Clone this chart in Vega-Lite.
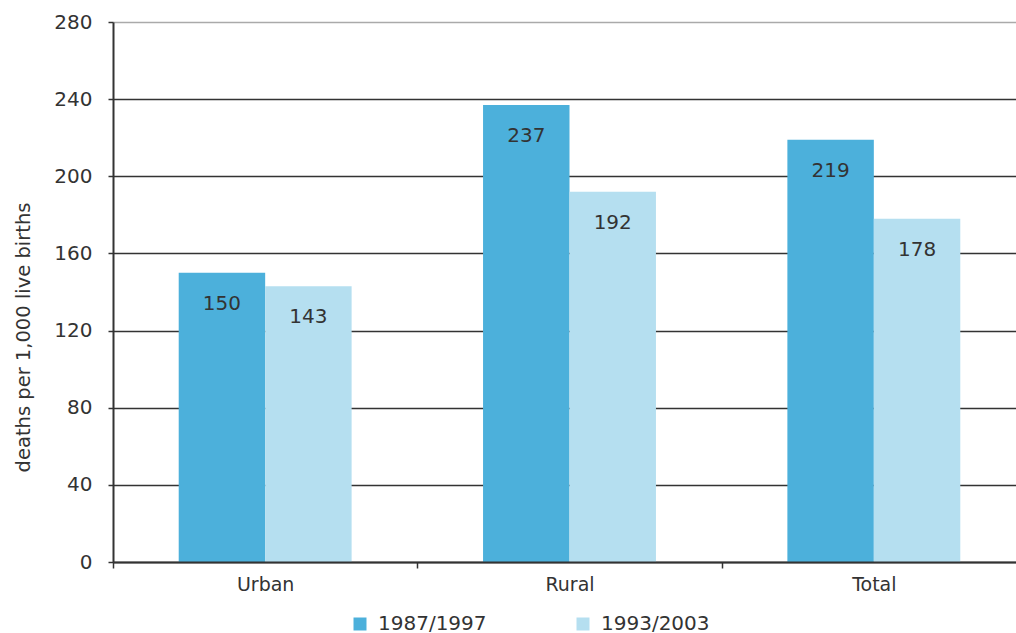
{
  "$schema": "https://vega.github.io/schema/vega-lite/v6.json",
  "autosize": "none",
  "width": 913,
  "height": 540,
  "padding": {"left": 113, "top": 22, "right": 0, "bottom": 71},
  "background": "white",
  "config": {
    "font": "DejaVu Sans",
    "view": {"stroke": null}
  },
  "data": {
    "values": [
      {"area": "Urban", "period": "1987/1997", "value": 150},
      {"area": "Urban", "period": "1993/2003", "value": 143},
      {"area": "Rural", "period": "1987/1997", "value": 237},
      {"area": "Rural", "period": "1993/2003", "value": 192},
      {"area": "Total", "period": "1987/1997", "value": 219},
      {"area": "Total", "period": "1993/2003", "value": 178}
    ]
  },
  "encoding": {
    "x": {
      "field": "area",
      "type": "nominal",
      "sort": ["Urban", "Rural", "Total"],
      "scale": {"paddingInner": 0, "paddingOuter": 0},
      "axis": {
        "title": null,
        "labelAngle": 0,
        "labelFontSize": 19,
        "labelColor": "#333333",
        "labelPadding": 7,
        "tickBand": "extent",
        "tickColor": "#333333",
        "tickSize": 6,
        "tickWidth": 1.5,
        "domainColor": "#333333",
        "domainWidth": 2,
        "zindex": 1
      }
    },
    "xOffset": {
      "field": "period",
      "type": "nominal",
      "scale": {"paddingOuter": 0.76, "paddingInner": 0}
    },
    "y": {
      "field": "value",
      "type": "quantitative",
      "scale": {"domain": [0, 280], "nice": false},
      "axis": {
        "title": "deaths per 1,000 live births",
        "titleFontSize": 19.5,
        "titleFontWeight": "normal",
        "titleColor": "#333333",
        "titlePadding": 20,
        "titleY": 315,
        "titleAlign": "center",
        "values": [0, 40, 80, 120, 160, 200, 240, 280],
        "labelFontSize": 20,
        "labelColor": "#333333",
        "labelPadding": 16,
        "tickSize": 5,
        "tickColor": "#333333",
        "tickWidth": 1.5,
        "domainColor": "#333333",
        "domainWidth": 2,
        "grid": true,
        "gridColor": {"condition": {"test": "datum.value == 280", "value": "#aaaaaa"}, "value": "#333333"},
        "gridWidth": 1.5
      }
    }
  },
  "layer": [
    {
      "mark": {"type": "bar"},
      "encoding": {
        "color": {
          "field": "period",
          "type": "nominal",
          "scale": {"domain": ["1987/1997", "1993/2003"], "range": ["#4cb0db", "#b5dff0"]},
          "legend": {
            "title": null,
            "orient": "none",
            "direction": "horizontal",
            "legendX": 237,
            "legendY": 592,
            "padding": 0,
            "symbolType": "square",
            "symbolSize": 169,
            "symbolStrokeWidth": 0,
            "labelFontSize": 20,
            "labelColor": "#333333",
            "columnPadding": 86,
            "labelOffset": 8
          }
        }
      }
    },
    {
      "mark": {"type": "text", "baseline": "middle", "dy": 31, "fontSize": 20, "color": "#333333"},
      "encoding": {"text": {"field": "value", "type": "quantitative"}}
    }
  ]
}
